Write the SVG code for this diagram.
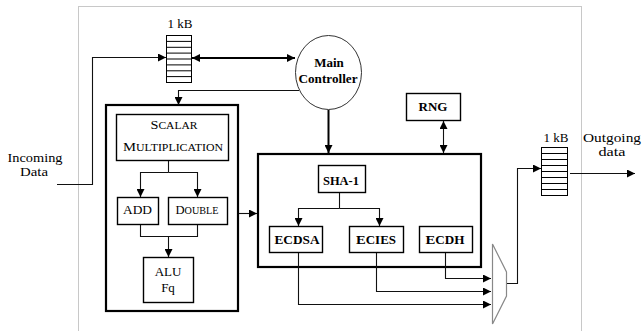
<svg xmlns="http://www.w3.org/2000/svg" width="642" height="331" viewBox="0 0 642 331">
<style>
text{fill:#000;text-anchor:middle}
.b{font-weight:bold}
.box{fill:#fff;stroke:#000;stroke-width:1.4}
.big{fill:none;stroke:#000;stroke-width:2.2}
.c{fill:none;stroke:#111;stroke-width:1.1}
.thick{fill:none;stroke:#000;stroke-width:2}
.fifo{fill:#fff;stroke:#000;stroke-width:1}
</style>
<defs>
<marker id="ah" viewBox="0 0 10 10" refX="10" refY="5" markerWidth="9" markerHeight="8" orient="auto-start-reverse" markerUnits="userSpaceOnUse"><path d="M0,0 L10,5 L0,10 z" fill="#000"/></marker>
</defs>
<g font-family="'Liberation Serif', 'Times New Roman', serif">
<rect x="78.5" y="6.5" width="503" height="330" fill="none" stroke="#c8c8c8" stroke-width="1"/>
<g id="label-in">
<text x="35" y="162" font-size="13.5" textLength="55" lengthAdjust="spacingAndGlyphs">Incoming</text>
<text x="34" y="176" font-size="13.5" textLength="28" lengthAdjust="spacingAndGlyphs">Data</text>
</g>
<g id="label-out">
<text x="612" y="142" font-size="13.5" textLength="58" lengthAdjust="spacingAndGlyphs">Outgoing</text>
<text x="612" y="156" font-size="13.5" textLength="27" lengthAdjust="spacingAndGlyphs">data</text>
</g>
<g id="fifo-in">
<text x="180" y="28" font-size="13" textLength="25" lengthAdjust="spacingAndGlyphs">1 kB</text>
<rect class="fifo" x="166.5" y="35.5" width="25" height="47"/>
<path class="fifo" d="M166.5,41.4H191.5M166.5,47.3H191.5M166.5,53.1H191.5M166.5,59H191.5M166.5,64.9H191.5M166.5,70.8H191.5M166.5,76.6H191.5"/>
</g>
<g id="fifo-out">
<text x="556" y="142" font-size="13" textLength="25" lengthAdjust="spacingAndGlyphs">1 kB</text>
<rect class="fifo" x="541.5" y="147.5" width="26" height="48"/>
<path class="fifo" d="M541.5,153.5H567.5M541.5,159.5H567.5M541.5,165.5H567.5M541.5,171.5H567.5M541.5,177.5H567.5M541.5,183.5H567.5M541.5,189.5H567.5"/>
</g>
<g id="controller">
<ellipse cx="328.5" cy="72.5" rx="33" ry="37" fill="#fff" stroke="#333" stroke-width="1"/>
<text class="b" x="329" y="67" font-size="13">Main</text>
<text class="b" x="328" y="83" font-size="13" textLength="59" lengthAdjust="spacingAndGlyphs">Controller</text>
</g>
<g id="rng">
<rect class="box" x="406.5" y="93.5" width="54" height="27"/>
<text class="b" x="433" y="111" font-size="13">RNG</text>
</g>
<g id="scalar-unit">
<rect class="big" x="106" y="105" width="132" height="206"/>
</g>
<g id="scalar-mult">
<rect class="box" x="116.5" y="114.5" width="112" height="46"/>
<text x="174" y="129" font-size="13" textLength="47" lengthAdjust="spacingAndGlyphs">S<tspan font-size="10.5">CALAR</tspan></text>
<text x="173" y="151" font-size="13" textLength="100" lengthAdjust="spacingAndGlyphs">M<tspan font-size="10.5">ULTIPLICATION</tspan></text>
</g>
<g id="add">
<rect class="box" x="117.5" y="197.5" width="41" height="27"/>
<text x="137.5" y="214" font-size="13" textLength="29" lengthAdjust="spacingAndGlyphs">ADD</text>
</g>
<g id="double">
<rect class="box" x="168.5" y="197.5" width="59" height="27"/>
<text x="197" y="214" font-size="13" textLength="43" lengthAdjust="spacingAndGlyphs">D<tspan font-size="10.5">OUBLE</tspan></text>
</g>
<g id="alu">
<rect class="box" x="143.5" y="257.5" width="50" height="45"/>
<text x="168" y="276" font-size="13">ALU</text>
<text x="168" y="292" font-size="13">Fq</text>
</g>
<g id="crypto-unit">
<rect class="big" x="258" y="154" width="223" height="113"/>
</g>
<g id="sha1">
<rect class="box" x="318.5" y="165.5" width="47" height="27"/>
<text class="b" x="341" y="185" font-size="12.5" textLength="36" lengthAdjust="spacingAndGlyphs">SHA-1</text>
</g>
<g id="ecdsa">
<rect class="box" x="269.5" y="226.5" width="53" height="26"/>
<text class="b" x="297" y="244" font-size="13" textLength="45" lengthAdjust="spacingAndGlyphs">ECDSA</text>
</g>
<g id="ecies">
<rect class="box" x="349.5" y="226.5" width="54" height="26"/>
<text class="b" x="376" y="244" font-size="13.5" textLength="40" lengthAdjust="spacingAndGlyphs">E<tspan font-size="12">CIES</tspan></text>
</g>
<g id="ecdh">
<rect class="box" x="419.5" y="226.5" width="53" height="26"/>
<text class="b" x="445" y="244" font-size="13.5" textLength="39" lengthAdjust="spacingAndGlyphs">E<tspan font-size="12">CDH</tspan></text>
</g>
<g id="mux">
<polygon points="492.5,244 506.5,272 506.5,296 492.5,324" fill="#fff" stroke="#888" stroke-width="1.2"/>
</g>
<g id="connectors">
<path class="c" d="M57,184.5H92.5V57.5H166" marker-end="url(#ah)"/>
<path class="thick" d="M192,58H295" marker-start="url(#ah)" marker-end="url(#ah)"/>
<path class="c" d="M299,90.5H178.5V105" marker-end="url(#ah)"/>
<path class="thick" d="M328.5,110V153" marker-end="url(#ah)"/>
<path class="c" stroke-width="1.3" d="M443.5,121V153" marker-start="url(#ah)" marker-end="url(#ah)"/>
<path class="c" d="M168.5,161V172.5"/>
<path class="c" d="M168.5,172.5H140.5V197" marker-end="url(#ah)"/>
<path class="c" d="M168.5,172.5H197.5V197" marker-end="url(#ah)"/>
<path class="c" d="M140.5,225V236.5H197.5V225"/>
<path class="c" d="M168.5,236.5V257" marker-end="url(#ah)"/>
<path class="c" d="M239,213.5H257" marker-end="url(#ah)"/>
<path class="c" d="M339.5,193V208.5"/>
<path class="c" d="M339.5,208.5H298.5V226" marker-end="url(#ah)"/>
<path class="c" d="M339.5,208.5H379.5V226" marker-end="url(#ah)"/>
<path class="c" d="M298.5,253V304.5H491" marker-end="url(#ah)"/>
<path class="c" d="M376.5,253V291.5H491" marker-end="url(#ah)"/>
<path class="c" d="M445.5,253V278.5H491" marker-end="url(#ah)"/>
<path class="c" d="M507,283.5H517.5V168.5H541" marker-end="url(#ah)"/>
<path class="c" d="M570,173.5H635" marker-end="url(#ah)"/>
</g>
</g>
</svg>
